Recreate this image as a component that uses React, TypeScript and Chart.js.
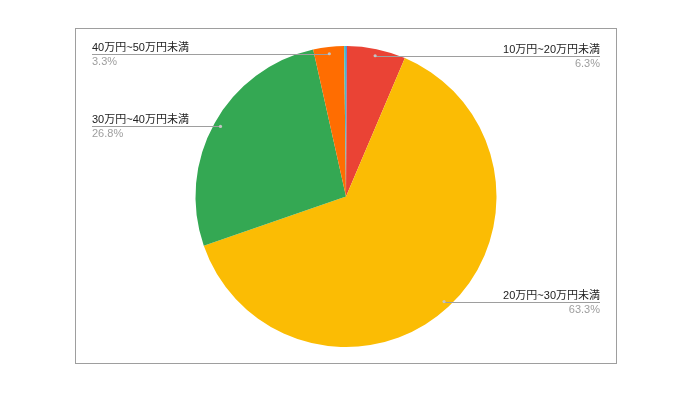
import { useEffect, useRef } from "react"
import { Chart, registerables } from "chart.js"

Chart.register(...registerables)

// Data (clockwise from the top)
const categories = [
  "10万円未満",
  "10万円~20万円未満",
  "20万円~30万円未満",
  "30万円~40万円未満",
  "40万円~50万円未満",
  "50万円以上",
]
const shares = [0.1, 6.3, 63.3, 26.8, 3.3, 0.2]
const sliceColors = ["#4285F4", "#EA4335", "#FBBC04", "#34A853", "#FF6D01", "#46BDC6"]
const minLabelShare = 1

const FONT = "'Liberation Sans', Arial, 'Noto Sans CJK JP', sans-serif"

// frame + leader-line labels like the Sheets chart
const calloutPlugin = {
  id: "callouts",
  beforeDraw(chart: Chart) {
    const { ctx } = chart
    ctx.save()
    ctx.strokeStyle = "#9e9e9e"
    ctx.lineWidth = 1
    ctx.strokeRect(75.5, 28.5, 541, 335)
    ctx.restore()
  },
  afterDraw(chart: Chart) {
    const { ctx } = chart
    const meta = chart.getDatasetMeta(0)
    const total = shares.reduce((a, b) => a + b, 0)
    const leftEdge = 92
    const rightEdge = 600

    ctx.save()
    meta.data.forEach((el, i) => {
      const share = shares[i]
      if (share < minLabelShare) return
      const { x, y, startAngle, endAngle, outerRadius } = (el as any).getProps(
        ["x", "y", "startAngle", "endAngle", "outerRadius"],
        true
      )
      const mid = (startAngle + endAngle) / 2
      const r = outerRadius * 0.955
      const px = x + Math.cos(mid) * r
      const py = y + Math.sin(mid) * r
      const onRight = Math.cos(mid) >= 0
      const ex = onRight ? rightEdge : leftEdge
      const ly = Math.round(py) + 0.5

      ctx.strokeStyle = "#9e9e9e"
      ctx.lineWidth = 1
      ctx.beginPath()
      ctx.moveTo(px, ly)
      ctx.lineTo(ex, ly)
      ctx.stroke()

      ctx.fillStyle = "#c4c4c4"
      ctx.beginPath()
      ctx.arc(px, py, 1.6, 0, Math.PI * 2)
      ctx.fill()

      ctx.textAlign = onRight ? "right" : "left"
      ctx.font = `11px ${FONT}`
      ctx.fillStyle = "#222222"
      ctx.textBaseline = "bottom"
      ctx.fillText(categories[i], ex, ly - 1)
      ctx.fillStyle = "#9e9e9e"
      ctx.textBaseline = "top"
      ctx.fillText(((share / total) * 100).toFixed(1) + "%", ex, ly + 2)
    })
    ctx.restore()
  },
}

export default function App() {
  const chartRef = useRef<HTMLCanvasElement>(null)
  const chartInstance = useRef<Chart | null>(null)

  useEffect(() => {
    if (!chartRef.current) return
    if (chartInstance.current) chartInstance.current.destroy()

    chartInstance.current = new Chart(chartRef.current, {
      type: "pie",
      data: {
        labels: categories,
        datasets: [
          {
            data: shares,
            backgroundColor: sliceColors,
            borderWidth: 0,
          },
        ],
      },
      options: {
        animation: false,
        responsive: true,
        maintainAspectRatio: false,
        layout: {
          padding: { top: 46, bottom: 57, left: 100, right: 106 },
        },
        plugins: {
          legend: { display: false },
          tooltip: { enabled: false },
        },
      },
      plugins: [calloutPlugin],
    })

    return () => {
      if (chartInstance.current) {
        chartInstance.current.destroy()
        chartInstance.current = null
      }
    }
  }, [])

  return (
    <div style={{ position: "fixed", left: 0, top: 0, width: 698, height: 404, background: "#fff" }}>
      <canvas ref={chartRef} />
    </div>
  )
}
